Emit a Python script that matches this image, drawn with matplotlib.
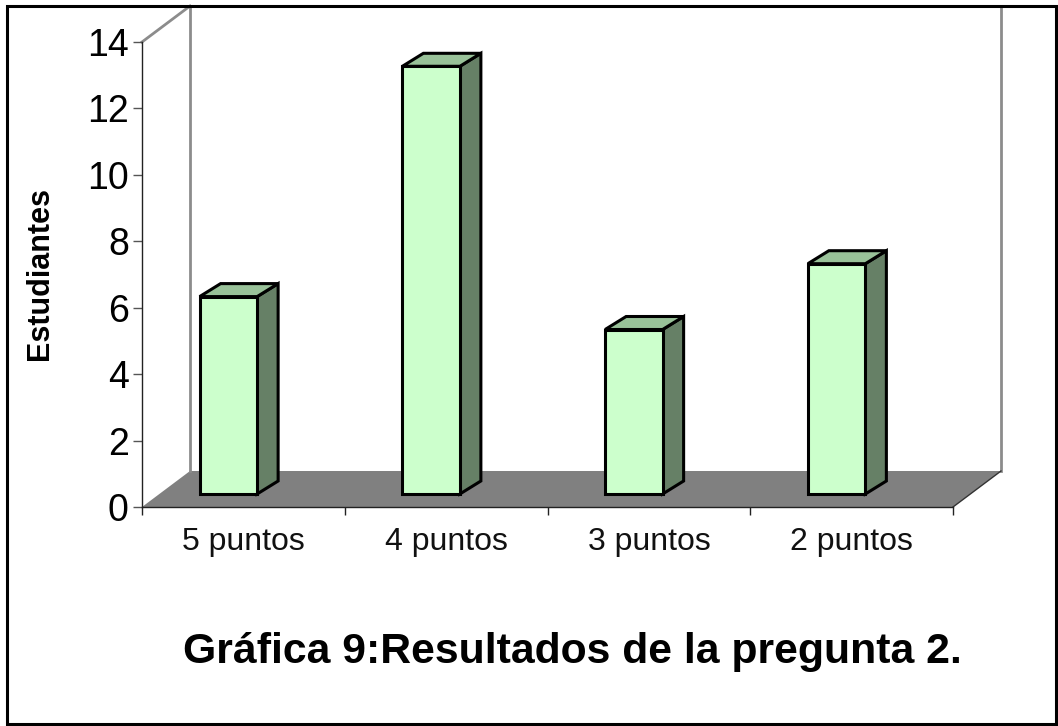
import matplotlib
matplotlib.use("Agg")
import matplotlib.pyplot as plt
from matplotlib.patches import Polygon, Rectangle
from matplotlib.transforms import blended_transform_factory

categories = ["5 puntos", "4 puntos", "3 puntos", "2 puntos"]
values = [6, 13, 5, 7]
y_ticks = [0, 2, 4, 6, 8, 10, 12, 14]
title = "Gráfica 9:Resultados de la pregunta 2."
y_label = "Estudiantes"

W, H = 1058, 726
plt.rcParams["font.family"] = ["Liberation Sans", "DejaVu Sans"]
fig = plt.figure(figsize=(W / 100, H / 100), dpi=100, facecolor="white")

# page frame
fig.add_artist(Rectangle((7 / W, 1 - 724 / H), 1049 / W, 718 / H, transform=fig.transFigure,
                         fill=False, ec="black", lw=2.2))

# front plane of the pseudo-3D chart
x0, x1, y_top, y_bot = 142, 953, 42, 507
ax = fig.add_axes([x0 / W, 1 - y_bot / H, (x1 - x0) / W, (y_bot - y_top) / H])
ax.set_xlim(0, len(categories))
ax.set_ylim(0, 14)
ax.patch.set_visible(False)

ux = (x1 - x0) / len(categories)   # px per category
uy = (y_bot - y_top) / 14          # px per unit
depth_x, depth_y = 48 / ux, 36 / uy

# floor and back walls
n = len(categories)
ax.add_patch(Polygon([(0, 0), (n, 0), (n + depth_x, depth_y), (depth_x, depth_y)],
                     closed=True, fc="#808080", ec="none", clip_on=False, zorder=1))
ax.plot([n, n + depth_x], [0, depth_y], color="#333333", lw=1, clip_on=False, zorder=1.5)
ax.plot([depth_x, depth_x], [depth_y, 14 + depth_y], color="#8c8c8c", lw=2, clip_on=False, zorder=1.2)
ax.plot([n + depth_x, n + depth_x], [depth_y, 14 + depth_y], color="#8c8c8c", lw=2, clip_on=False, zorder=1.2)
ax.plot([0, depth_x], [14, 14 + depth_y], color="#8c8c8c", lw=2, clip_on=False, zorder=1.2)
ax.plot([depth_x, n + depth_x], [14 + depth_y, 14 + depth_y], color="#8c8c8c", lw=2, clip_on=False, zorder=1.2)

# bars
bw = 57.5 / ux
bar_dx, bar_dy = 21 / ux, 13 / uy
base = 13 / uy
scale = 32.9 / uy
shift = -15 / ux
for i, v in enumerate(values):
    l = i + 0.5 + shift - bw / 2
    r = l + bw
    b = base
    t = base + v * scale
    ec = dict(ec="black", lw=2.2, joinstyle="miter", clip_on=False, zorder=3)
    ax.add_patch(Polygon([(r, b), (r + bar_dx, b + bar_dy), (r + bar_dx, t + bar_dy), (r, t)],
                         closed=True, fc="#668066", **ec))
    ax.add_patch(Polygon([(l, t), (r, t), (r + bar_dx, t + bar_dy), (l + bar_dx, t + bar_dy)],
                         closed=True, fc="#99C299", **ec))
    ax.add_patch(Polygon([(l, b), (r, b), (r, t), (l, t)],
                         closed=True, fc="#CCFFCC", **ec))

# axes
for s in ("top", "right"):
    ax.spines[s].set_visible(False)
for s in ("left", "bottom"):
    ax.spines[s].set_linewidth(1.0)
    ax.spines[s].set_color("#222222")
    ax.spines[s].set_zorder(2)
ax.set_yticks(y_ticks)
ax.tick_params(axis="y", labelsize=27, length=6.5, width=1, pad=3, color="#555555")
ax.set_xticks(range(n + 1))
ax.set_xticklabels([])
ax.tick_params(axis="x", length=6, width=1, color="#222222")
label_tf = blended_transform_factory(ax.transData, fig.transFigure)
for i, c in enumerate(categories):
    ax.text(i + 0.5, 1 - 542 / H, c, fontsize=23, ha="center", va="center",
            color="#111111", transform=label_tf)

fig.text(40 / W, 1 - 273.5 / H, y_label, rotation=90, fontsize=22, fontweight="bold",
         ha="center", va="center")
fig.text(572 / W, 1 - 651.5 / H, title, fontsize=30.8, fontweight="bold", ha="center", va="center")

fig.savefig("out.png", dpi=100, facecolor="white")
